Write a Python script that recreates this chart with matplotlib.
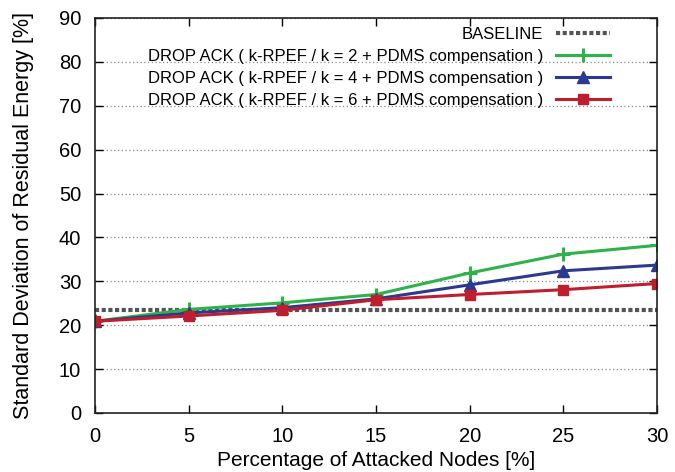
import matplotlib
matplotlib.use('Agg')
from matplotlib import pyplot as plt

plt.rcParams['font.family'] = ['Liberation Sans', 'DejaVu Sans']

x = [0, 5, 10, 15, 20, 25, 30]
baseline = [23.4] * 7
k2 = [20.9, 23.6, 25.1, 27.0, 31.9, 36.2, 38.2]
k4 = [20.9, 22.8, 24.0, 26.0, 29.2, 32.4, 33.7]
k6 = [20.9, 22.1, 23.4, 25.8, 27.0, 28.1, 29.5]

labels = ['BASELINE',
          'DROP ACK ( k-RPEF / k = 2 + PDMS compensation )',
          'DROP ACK ( k-RPEF / k = 4 + PDMS compensation )',
          'DROP ACK ( k-RPEF / k = 6 + PDMS compensation )']

fig = plt.figure(figsize=(6.75, 4.72), dpi=100)
# axes box: x 95..657 px, y 18..413 px
ax = fig.add_axes([95 / 675, (472 - 413) / 472, 562 / 675, 395 / 472])

ax.plot(x, baseline, color='#555555', lw=3, linestyle=(0, (1, 0.6)), label=labels[0])
ax.plot(x, k2, color='#2DB34A', lw=2.2, marker='+', ms=10, mew=2.2, label=labels[1])
ax.plot(x, k4, color='#2B3990', lw=2.2, marker='^', ms=8.5, label=labels[2])
ax.plot(x, k6, color='#BE1E2D', lw=2.2, marker='s', ms=7.2, label=labels[3])

ax.set_xlim(0, 30)
ax.set_ylim(0, 90)
ax.set_xticks(x)
ax.set_yticks(range(0, 91, 10))
ax.yaxis.grid(True, linestyle=(0, (1, 2)), color='#888888', lw=0.9)
ax.tick_params(direction='in', top=True, right=True, labelsize=14.5, length=6, width=1, pad=10)
for s in ax.spines.values():
    s.set_linewidth(1.2)
    s.set_color('#222222')

ax.set_xlabel('Percentage of Attacked Nodes [%]', fontsize=15, labelpad=4)
ax.set_ylabel('Standard Deviation of Residual Energy [%]', fontsize=15.5, labelpad=18)

leg = ax.legend(loc='upper right', frameon=False, markerfirst=False, fontsize=12,
                handlelength=3.25, labelspacing=0.43, borderaxespad=0,
                bbox_to_anchor=(0.929, 0.995))

plt.savefig('out.png', dpi=100)
